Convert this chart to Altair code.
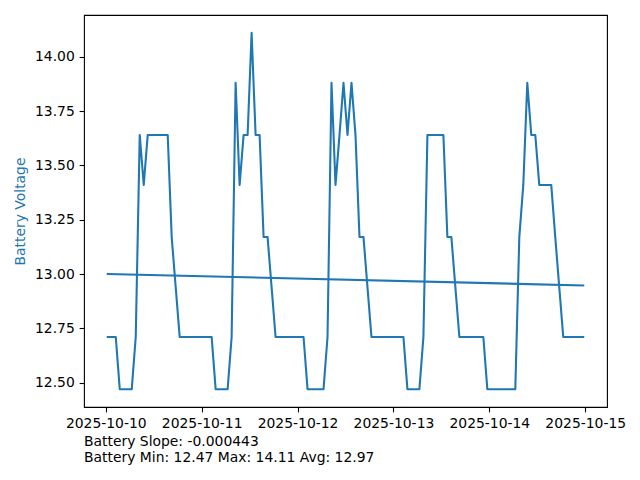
import altair as alt
import pandas as pd

# Hourly battery readings starting 2025-10-10 00:30 UTC
start_time = "2025-10-10 00:30"
voltage = [
    12.71, 12.71, 12.71, 12.47, 12.47, 12.47, 12.47, 12.71, 13.64, 13.41,
    13.64, 13.64, 13.64, 13.64, 13.64, 13.64, 13.17, 12.94, 12.71, 12.71,
    12.71, 12.71, 12.71, 12.71, 12.71, 12.71, 12.71, 12.47, 12.47, 12.47,
    12.47, 12.71, 13.88, 13.41, 13.64, 13.64, 14.11, 13.64, 13.64, 13.17,
    13.17, 12.94, 12.71, 12.71, 12.71, 12.71, 12.71, 12.71, 12.71, 12.71,
    12.47, 12.47, 12.47, 12.47, 12.47, 12.71, 13.88, 13.41, 13.64, 13.88,
    13.64, 13.88, 13.64, 13.17, 13.17, 12.94, 12.71, 12.71, 12.71, 12.71,
    12.71, 12.71, 12.71, 12.71, 12.71, 12.47, 12.47, 12.47, 12.47, 12.71,
    13.64, 13.64, 13.64, 13.64, 13.64, 13.17, 13.17, 12.94, 12.71, 12.71,
    12.71, 12.71, 12.71, 12.71, 12.71, 12.47, 12.47, 12.47, 12.47, 12.47,
    12.47, 12.47, 12.47, 13.17, 13.41, 13.88, 13.64, 13.64, 13.41, 13.41,
    13.41, 13.41, 13.17, 12.94, 12.71, 12.71, 12.71, 12.71, 12.71, 12.71,
]
tick_days = [10, 11, 12, 13, 14, 15]
y_ticks = [12.50, 12.75, 13.00, 13.25, 13.50, 13.75, 14.00]
footer_lines = [
    "Battery Slope: -0.000443",
    "Battery Min: 12.47 Max: 14.11 Avg: 12.97",
]

times = pd.date_range(start=start_time, periods=len(voltage), freq="h")
df = pd.DataFrame({
    "time": times.strftime("%Y-%m-%dT%H:%M:%SZ"),
    "voltage": voltage,
})

BLUE = "#1f77b4"
FONT = "DejaVu Sans"
FS = 13.9

x_enc = alt.X(
    "time:T",
    title=None,
    scale=alt.Scale(
        type="utc",
        domain=[
            alt.DateTime(year=2025, month=10, date=9, hours=18, minutes=33, utc=True),
            alt.DateTime(year=2025, month=10, date=15, hours=5, minutes=27, utc=True),
        ],
    ),
    axis=alt.Axis(
        values=[alt.DateTime(year=2025, month=10, date=d, utc=True) for d in tick_days],
        labelExpr="utcFormat(datum.value, '%Y-%m-%d')",
        labelAngle=0,
    ),
)
y_enc = alt.Y(
    "voltage:Q",
    title="Battery Voltage",
    scale=alt.Scale(domain=[12.388, 14.192], nice=False, zero=False),
    axis=alt.Axis(
        values=y_ticks,
        format=".2f",
        titleColor=BLUE,
        titleX=-64,
        titleY=196,
        titleAngle=270,
        titleAlign="center",
        titleBaseline="middle",
    ),
)

line = alt.Chart().mark_line(
    color=BLUE, strokeWidth=2.08, strokeJoin="round", strokeCap="square"
).encode(x=x_enc, y=y_enc)

trend = alt.Chart().transform_regression(
    "time", "voltage"
).mark_line(
    color=BLUE, strokeWidth=2.08, strokeCap="square"
).encode(x=x_enc, y=y_enc)

chart = alt.layer(line, trend, data=df).properties(
    width=523,
    height=392,
    autosize="none",
    padding={"left": 76, "top": 7, "right": 25, "bottom": 65},
    title=alt.TitleParams(
        text=footer_lines,
        orient="bottom",
        anchor="start",
        frame="group",
        font=FONT,
        fontSize=FS,
        fontWeight="normal",
        color="black",
        lineHeight=16.7,
        offset=4,
    ),
).configure_view(
    stroke="black", strokeWidth=1.1
).configure_axis(
    domain=False,
    grid=False,
    ticks=True,
    tickColor="black",
    tickSize=4.86,
    tickWidth=1.1,
    labelFont=FONT,
    labelFontSize=FS,
    labelColor="black",
    labelPadding=4.86,
    titleFont=FONT,
    titleFontSize=FS,
    titleFontWeight="normal",
)

chart.save("out.html", embed_options={"renderer": "svg", "actions": False})
